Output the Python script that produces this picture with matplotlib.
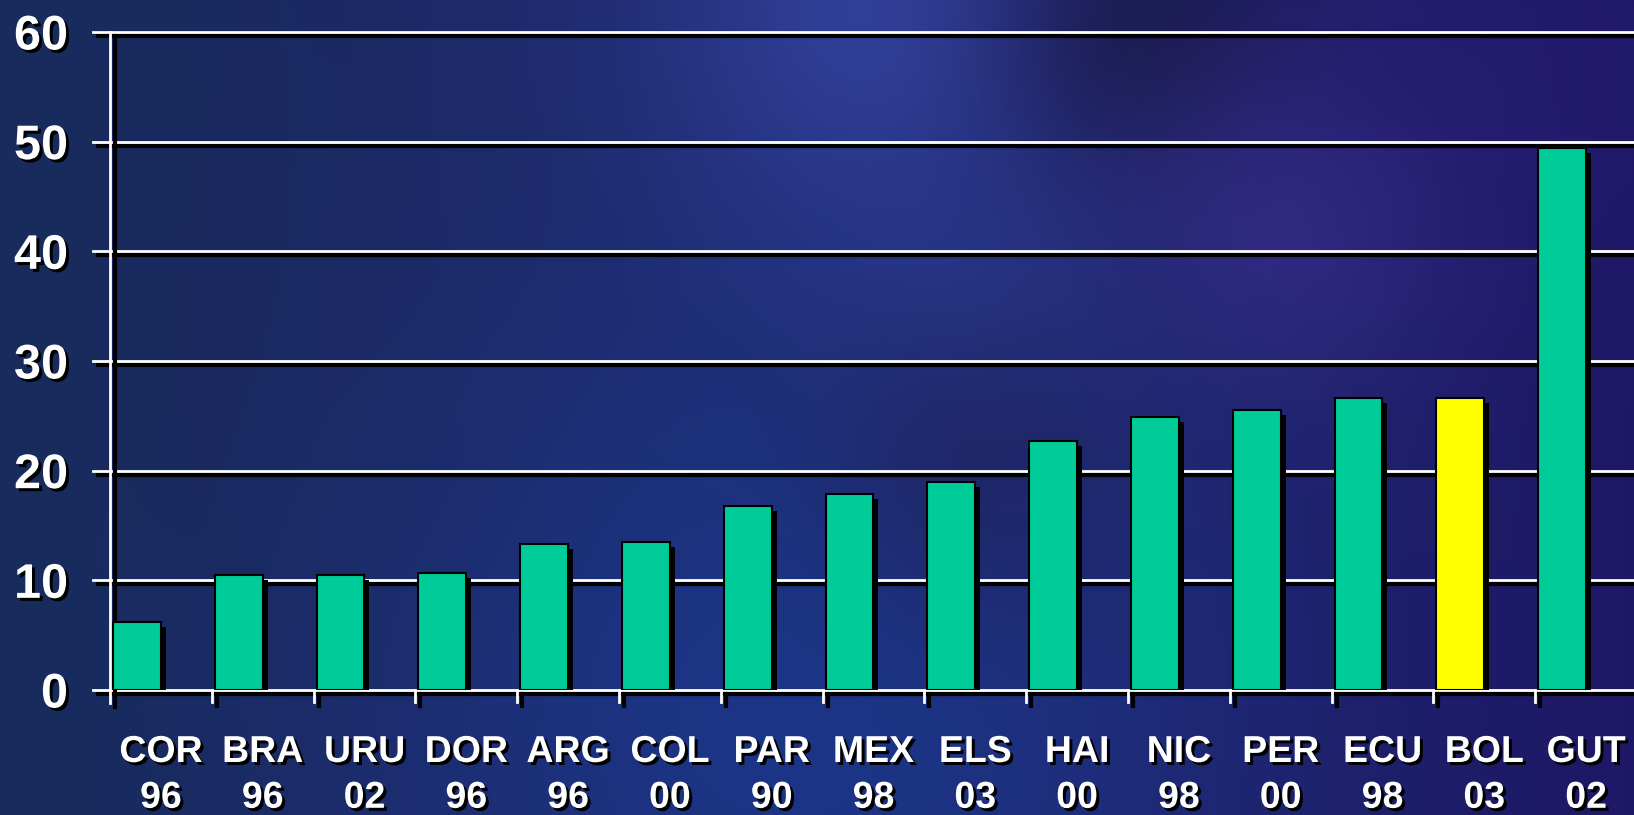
import matplotlib
matplotlib.use('Agg')
import matplotlib.pyplot as plt
import matplotlib.patheffects as pe
import numpy as np

# chart data
countries = ['COR', 'BRA', 'URU', 'DOR', 'ARG', 'COL', 'PAR', 'MEX', 'ELS',
             'HAI', 'NIC', 'PER', 'ECU', 'BOL', 'GUT']
years = ['96', '96', '02', '96', '96', '00', '90', '98', '03',
         '00', '98', '00', '98', '03', '02']
values = [6.2, 10.5, 10.5, 10.7, 13.3, 13.5, 16.8, 17.9, 19.0,
          22.7, 24.9, 25.5, 26.6, 26.6, 49.4]
highlight = 'BOL'
yticks = [0, 10, 20, 30, 40, 50, 60]

W, H, DPI = 1634, 815, 100
PX = 72.0 / DPI  # points per pixel

plt.rcParams['font.family'] = ['Liberation Sans', 'DejaVu Sans']

fig = plt.figure(figsize=(W / DPI, H / DPI), dpi=DPI)

# background: dark blue with soft blotches
bg = fig.add_axes([0, 0, 1, 1], zorder=-10)
yy, xx = np.mgrid[0:H, 0:W].astype(float)
t = xx / W
base = np.array([22, 44, 90]) * (1 - t[..., None]) + np.array([30, 22, 100]) * t[..., None]
mid = np.exp(-((xx - 800) ** 2) / (2 * 400 ** 2))[..., None]
img = base * (1 - 0.5 * mid) + np.array([35, 48, 128]) * 0.5 * mid
blobs = [
    (880, 20, 160, (55, 70, 165), 0.8),
    (960, 290, 110, (48, 62, 150), 0.6),
    (1150, 40, 110, (22, 20, 60), 0.7),
    (1290, 220, 120, (62, 48, 145), 0.6),
    (1500, 60, 150, (40, 28, 115), 0.5),
    (800, 680, 280, (28, 58, 145), 0.75),
    (980, 460, 120, (30, 30, 80), 0.5),
    (200, 300, 300, (28, 42, 92), 0.4),
]
for bx, by, r, col, a in blobs:
    w = a * np.exp(-((xx - bx) ** 2 + (yy - by) ** 2) / (2 * r ** 2))
    img = img * (1 - w[..., None]) + np.array(col) * w[..., None]
bg.imshow(np.clip(img, 0, 255).astype(np.uint8), aspect='auto')
bg.axis('off')

# main axes, the right end runs slightly past the figure edge
left_px, top_px, bot_px = 110, 32, 690
slot_px = 101.8
xmax = (W - left_px) / slot_px
ax = fig.add_axes([left_px / W, (H - bot_px) / H, (W - left_px) / W, (bot_px - top_px) / H])
ax.set_facecolor('none')
ax.set_xlim(0, xmax)
ax.set_ylim(0, 60)
for s in ax.spines.values():
    s.set_visible(False)

line_fx = [pe.SimpleLineShadow(offset=(5 * PX, -4 * PX), shadow_color='black', alpha=1, linewidth=3), pe.Normal()]
text_fx = [pe.withSimplePatchShadow(offset=(3 * PX, -3 * PX), shadow_rgbFace='black', alpha=1)]

# gridlines (stick out to the left like ticks)
gx0 = -17 / slot_px
for v in yticks:
    ax.plot([gx0, xmax], [v, v], color='white', lw=2, clip_on=False, zorder=1, path_effects=line_fx)

# y axis line, running a bit below zero
ydown = -13 / (bot_px - top_px) * 60
ax.plot([0, 0], [ydown, 60], color='white', lw=2, clip_on=False, zorder=1, path_effects=line_fx)

# x ticks at category boundaries
for i in range(1, len(countries) + 1):
    ax.plot([i, i], [0, -12 / (bot_px - top_px) * 60], color='white', lw=2, clip_on=False, zorder=1,
            path_effects=line_fx)

# bars
idx = np.arange(len(countries))
colors = ['#ffff00' if c == highlight else '#00cc99' for c in countries]
bars = ax.bar(idx + 0.03, values, width=0.47, align='edge', color=colors,
              edgecolor='black', linewidth=1.5, zorder=3)
for b in bars:
    b.set_path_effects([pe.withSimplePatchShadow(offset=(5 * PX, -5 * PX), shadow_rgbFace='black', alpha=1)])

# labels
ax.set_yticks(yticks)
ax.set_yticklabels([str(v) for v in yticks])
ax.set_xticks(idx + 0.5)
ax.set_xticklabels([f'{c}\n{y}' for c, y in zip(countries, years)], linespacing=1.35)
ax.tick_params(axis='y', length=0, pad=42 * PX, labelsize=35, labelcolor='white')
ax.tick_params(axis='x', length=0, pad=44 * PX, labelsize=27, labelcolor='white')
for lab in ax.get_yticklabels() + ax.get_xticklabels():
    lab.set_fontweight('bold')
    lab.set_path_effects(text_fx)

fig.savefig('out.png', dpi=DPI)
